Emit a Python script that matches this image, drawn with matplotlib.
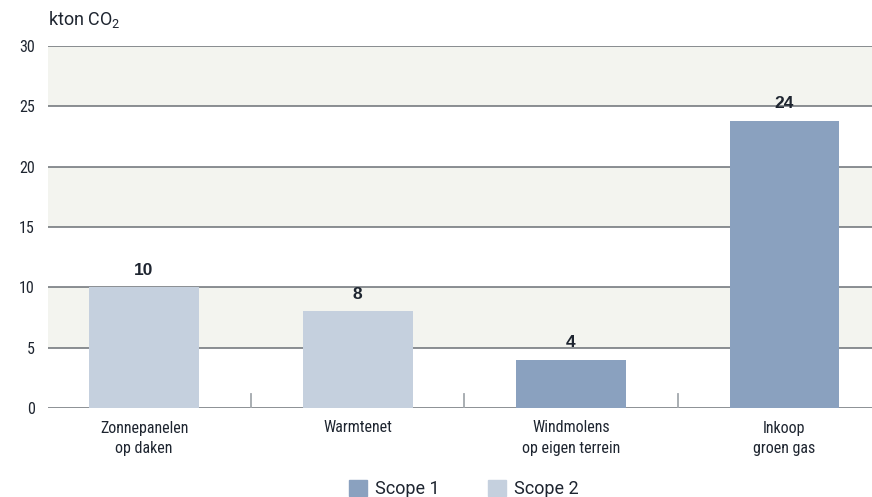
import matplotlib.pyplot as plt
from matplotlib.patches import Patch

categories = ["Zonnepanelen\nop daken", "Warmtenet", "Windmolens\nop eigen terrein", "Inkoop\ngroen gas"]
values = [10, 8, 4, 23.8]
value_labels = ["10", "8", "4", "24"]
scopes = [2, 2, 1, 1]
yticks = [0, 5, 10, 15, 20, 25, 30]

scope_colors = {1: "#8aa1bf", 2: "#c5d0de"}
band_color = "#f3f4ef"
grid_color = "#6b7075"
text_color = "#1e2530"
narrow = ["Roboto Condensed", "Liberation Sans Narrow", "Arial Narrow", "DejaVu Sans"]


def main():
    plt.rcParams["font.family"] = ["Roboto", "DejaVu Sans"]
    plt.rcParams["mathtext.default"] = "regular"
    fig = plt.figure(figsize=(8.72, 4.97), dpi=100)
    ax = fig.add_axes([48 / 872, 1 - 408 / 497, 824 / 872, 362 / 497])

    # alternating background bands
    for lo in range(5, 30, 10):
        ax.axhspan(lo, lo + 5, color=band_color, zorder=0, lw=0)
    for y in yticks:
        ax.axhline(y, color=grid_color, lw=1.8 if y == 0 else 1.1, zorder=1)

    x = list(range(len(categories)))
    colors = [scope_colors[s] for s in scopes]
    ax.bar(x, values, width=0.515, color=colors, zorder=2)
    for xi, v, lab in zip(x, values, value_labels):
        ax.text(xi, v + 0.8, lab, ha="center", va="bottom", fontsize=12.5,
                fontweight="bold", color=text_color, zorder=3,
                family=["Liberation Sans", "DejaVu Sans"])

    # separators between categories
    for sx in [0.5, 1.5, 2.5]:
        ax.plot([sx, sx], [0, 1.15], color="#a3a8ad", lw=1.3, zorder=1)

    ax.set_xlim(-0.45, 3.41)
    ax.set_ylim(0, 30)
    ax.set_xticks(x)
    ax.set_xticklabels(categories, family=narrow, fontsize=11.5, color=text_color,
                       linespacing=1.45)
    ax.set_yticks(yticks)
    ax.set_yticklabels([str(t) for t in yticks], family=narrow, fontsize=11.5,
                       color=text_color)
    ax.tick_params(axis="both", length=0)
    ax.tick_params(axis="x", pad=9)
    ax.tick_params(axis="y", pad=9.5)
    for s in ax.spines.values():
        s.set_visible(False)

    fig.text(48 / 872, 1 - 20 / 497, "kton CO$_2$", fontsize=13, color=text_color,
             va="center", ha="left")

    handles = [Patch(color=scope_colors[1], label="Scope 1"),
               Patch(color=scope_colors[2], label="Scope 2")]
    fig.legend(handles=handles, loc="center", bbox_to_anchor=(0.532, 0.016),
               ncol=2, frameon=False, fontsize=13, handlelength=1.0, handleheight=1.0,
               handletextpad=0.45, columnspacing=2.7, labelcolor=text_color,
               borderpad=0)

    fig.savefig("out.png", dpi=100)


if __name__ == "__main__":
    main()
